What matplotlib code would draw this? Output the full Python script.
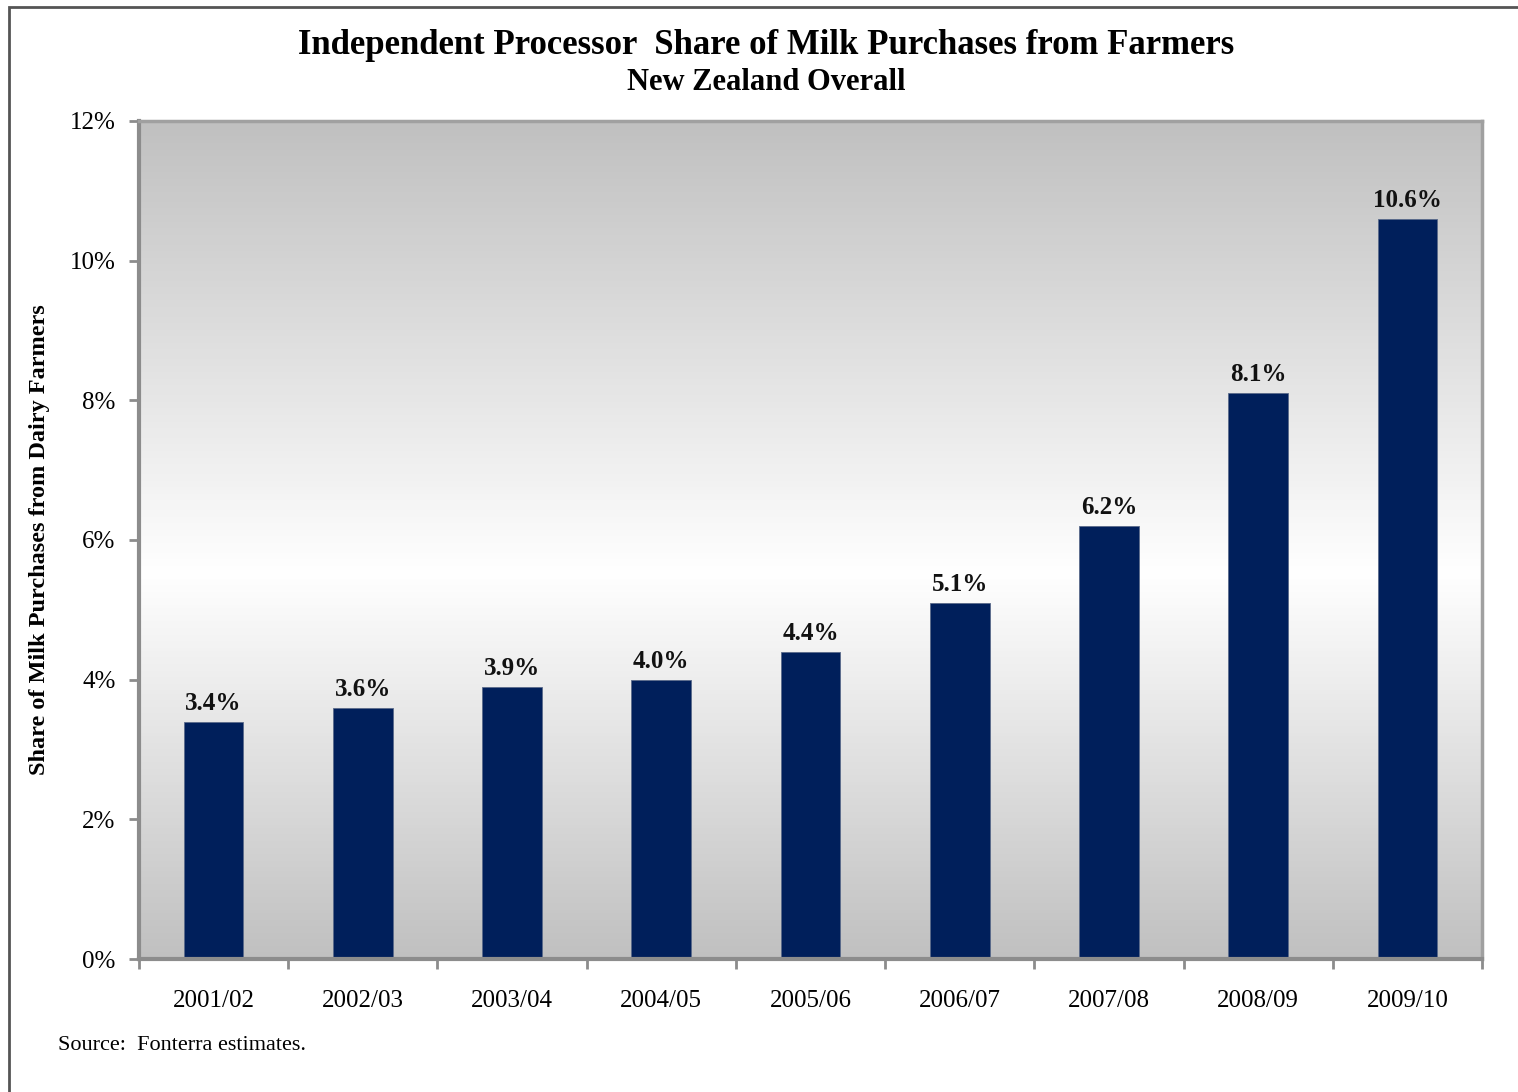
import numpy as np
import matplotlib.pyplot as plt
from matplotlib.colors import LinearSegmentedColormap
from matplotlib.patches import Rectangle
from matplotlib.ticker import FuncFormatter

plt.rcParams['font.family'] = ['Liberation Serif', 'DejaVu Serif']

# data
seasons = ['2001/02', '2002/03', '2003/04', '2004/05', '2005/06',
           '2006/07', '2007/08', '2008/09', '2009/10']
share = [3.4, 3.6, 3.9, 4.0, 4.4, 5.1, 6.2, 8.1, 10.6]
y_ticks = [0, 2, 4, 6, 8, 10, 12]

BAR = '#001F5B'
GRAY = '#8C8C8C'

fig = plt.figure(figsize=(15.18, 10.92), dpi=100)
ax = fig.add_axes([139 / 1518, 1 - 959 / 1092, (1482 - 139) / 1518, (959 - 121) / 1092])

# gray -> white -> gray gradient background of the plot area
grad = LinearSegmentedColormap.from_list(
    'bg', [(0.0, '#C0C0C0'), (0.46, '#FFFFFF'), (1.0, '#C0C0C0')], N=256)
ax.imshow(np.linspace(0, 1, 256).reshape(-1, 1), cmap=grad, aspect='auto',
          origin='lower', extent=[0, 1, 0, 1], transform=ax.transAxes, zorder=0)

x = np.arange(len(seasons))
ax.bar(x, share, width=0.4, color=BAR, edgecolor='#5A6A8A', linewidth=0.6, zorder=2)
for xi, v in zip(x, share):
    ax.text(xi, v + 0.1, f'{v:.1f}%', ha='center', va='bottom',
            fontsize=18, fontweight='bold', color='#111111', zorder=3)

ax.set_xlim(-0.5, len(seasons) - 0.5)
ax.set_ylim(0, 12)
ax.set_yticks(y_ticks)
ax.yaxis.set_major_formatter(FuncFormatter(lambda v, p: f'{v:.0f}%'))
ax.set_xticks(x)
ax.set_xticklabels(seasons)
ax.set_xticks(np.arange(-0.5, len(seasons), 1), minor=True)
ax.tick_params(axis='x', which='major', length=0, pad=22, labelsize=18)
ax.tick_params(axis='x', which='minor', length=7, width=2, color=GRAY, direction='out')
ax.tick_params(axis='y', length=7, width=2, color=GRAY, direction='out',
               pad=10, labelsize=18)

for side in ['top', 'right']:
    ax.spines[side].set_color('#A0A0A0')
    ax.spines[side].set_linewidth(2.5)
for side in ['left', 'bottom']:
    ax.spines[side].set_color(GRAY)
    ax.spines[side].set_linewidth(3)

ax.set_ylabel('Share of Milk Purchases from Dairy Farmers', fontsize=17.5,
              fontweight='bold', labelpad=14)

fig.text(0.505, 1 - 46 / 1092, 'Independent Processor  Share of Milk Purchases from Farmers',
         ha='center', va='center', fontsize=25, fontweight='bold')
fig.text(0.505, 1 - 82 / 1092, 'New Zealand Overall', ha='center', va='center',
         fontsize=22, fontweight='bold')
fig.text(58 / 1518, 1 - 1045 / 1092, 'Source:  Fonterra estimates.', ha='left',
         va='center', fontsize=16)

# outer frame of the exhibit
fig.patches.append(Rectangle((9 / 1518, -0.05), 1.2, 1 - 7 / 1092 + 0.05,
                             transform=fig.transFigure, fill=False,
                             edgecolor='#555555', linewidth=2))

fig.savefig('out.png', dpi=100)
